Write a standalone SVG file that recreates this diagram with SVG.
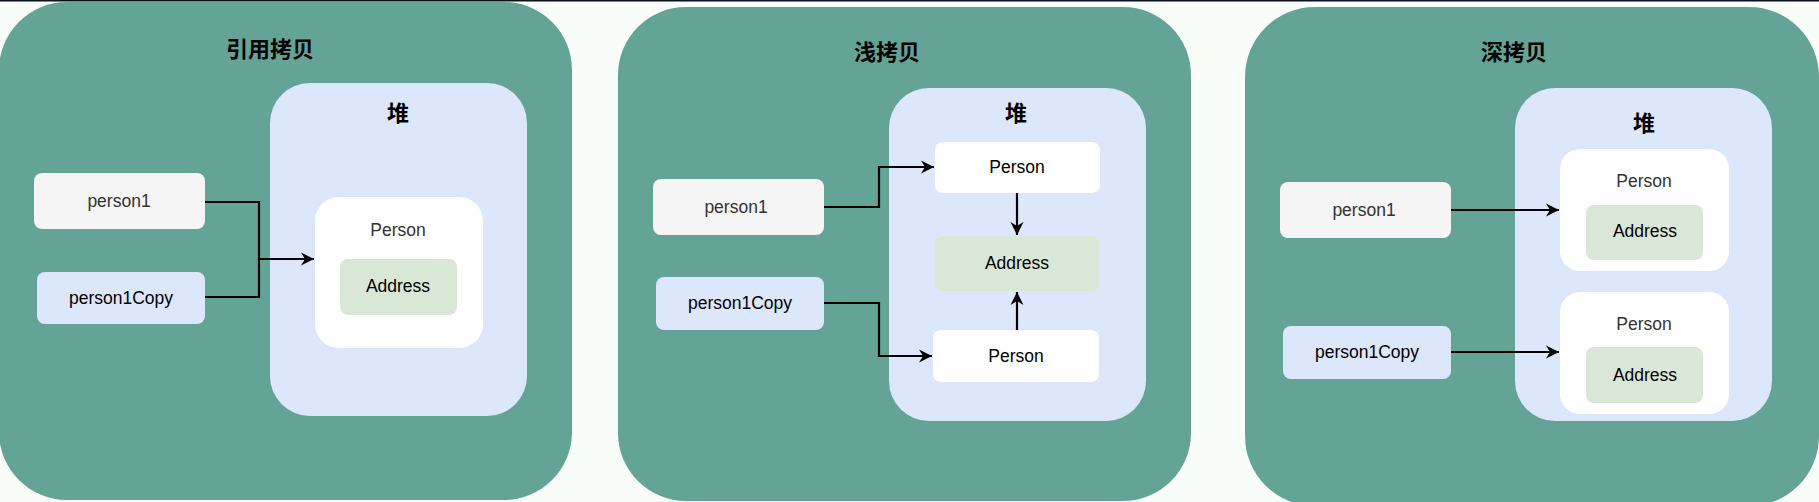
<svg xmlns="http://www.w3.org/2000/svg" width="1819" height="502" viewBox="0 0 1819 502">
<style>
.panel{fill:#64a497}
.heap{fill:#dce7fb}
.white{fill:#ffffff}
.addr{fill:#d9e7d6}
.p1{fill:#f5f5f5}
.pc{fill:#dce7fb}
.title{font-family:"Liberation Sans","Noto Sans CJK SC",sans-serif;font-size:22px;font-weight:bold;fill:#000;text-anchor:middle;dominant-baseline:central}
.lbl{font-family:"Liberation Sans",Arial,sans-serif;font-size:17.5px;fill:#000;text-anchor:middle;dominant-baseline:central}
.gray{fill:#333}
.conn{fill:none;stroke:#000;stroke-width:2.2}
</style>
<defs>
<marker id="arr" markerUnits="userSpaceOnUse" markerWidth="15" markerHeight="15" viewBox="0 0 15 15" refX="14" refY="7.5" orient="auto">
<path d="M1,1 L14,7.5 L1,14 L5,7.5 Z" fill="#000"/>
</marker>
</defs>
<rect x="0" y="0" width="1819" height="502" fill="#f8fdf9"/>
<rect x="0" y="0" width="1819" height="1.5" fill="#0b1118"/>

<g id="panel-ref">
<rect class="panel" x="-1" y="2" width="573" height="498" rx="68"/>
<text class="title" x="270" y="49">引用拷贝</text>
</g>
<g id="heap-ref">
<rect class="heap" x="270" y="83" width="257" height="333" rx="40"/>
<text class="title" x="398" y="113">堆</text>
</g>
<g id="person-ref">
<rect class="white" x="315" y="197" width="168" height="151" rx="24"/>
<text class="lbl gray" x="398" y="230">Person</text>
</g>
<g id="address-ref">
<rect class="addr" x="340" y="259" width="117" height="56" rx="8"/>
<text class="lbl" x="398" y="286">Address</text>
</g>
<g id="person1-ref">
<rect class="p1" x="34" y="173" width="171" height="56" rx="8"/>
<text class="lbl gray" x="119" y="201">person1</text>
</g>
<g id="person1copy-ref">
<rect class="pc" x="37" y="272" width="168" height="52" rx="8"/>
<text class="lbl" x="121" y="298">person1Copy</text>
</g>

<g id="panel-shallow">
<rect class="panel" x="618" y="7" width="573" height="494" rx="68"/>
<text class="title" x="887" y="52">浅拷贝</text>
</g>
<g id="heap-shallow">
<rect class="heap" x="889" y="88" width="257" height="333" rx="40"/>
<text class="title" x="1016" y="113">堆</text>
</g>
<g id="person-top-shallow">
<rect class="white" x="935" y="142" width="165" height="51" rx="8"/>
<text class="lbl" x="1017" y="167">Person</text>
</g>
<g id="address-shallow">
<rect class="addr" x="935" y="236" width="164" height="55" rx="8"/>
<text class="lbl" x="1017" y="263">Address</text>
</g>
<g id="person-bottom-shallow">
<rect class="white" x="933" y="330" width="166" height="52" rx="8"/>
<text class="lbl" x="1016" y="356">Person</text>
</g>
<g id="person1-shallow">
<rect class="p1" x="653" y="179" width="171" height="56" rx="8"/>
<text class="lbl gray" x="736" y="207">person1</text>
</g>
<g id="person1copy-shallow">
<rect class="pc" x="656" y="277" width="168" height="53" rx="8"/>
<text class="lbl" x="740" y="303">person1Copy</text>
</g>

<g id="panel-deep">
<rect class="panel" x="1245" y="7" width="574" height="499" rx="70"/>
<text class="title" x="1514" y="52">深拷贝</text>
</g>
<g id="heap-deep">
<rect class="heap" x="1515" y="88" width="257" height="333" rx="40"/>
<text class="title" x="1644" y="123">堆</text>
</g>
<g id="personA-deep">
<rect class="white" x="1560" y="149" width="169" height="122" rx="20"/>
<text class="lbl gray" x="1644" y="181">Person</text>
<rect class="addr" x="1586" y="205" width="117" height="55" rx="8"/>
<text class="lbl" x="1645" y="231">Address</text>
</g>
<g id="personB-deep">
<rect class="white" x="1560" y="292" width="169" height="122" rx="20"/>
<text class="lbl gray" x="1644" y="324">Person</text>
<rect class="addr" x="1586" y="347" width="117" height="56" rx="8"/>
<text class="lbl" x="1645" y="375">Address</text>
</g>
<g id="person1-deep">
<rect class="p1" x="1280" y="182" width="171" height="56" rx="8"/>
<text class="lbl gray" x="1364" y="210">person1</text>
</g>
<g id="person1copy-deep">
<rect class="pc" x="1283" y="326" width="168" height="53" rx="8"/>
<text class="lbl" x="1367" y="352">person1Copy</text>
</g>

<g id="connectors">
<path class="conn" d="M205,202 H259 V259 H314" marker-end="url(#arr)"/>
<path class="conn" d="M205,297 H259 V259"/>
<path class="conn" d="M824,207 H879 V167 H934" marker-end="url(#arr)"/>
<path class="conn" d="M824,303 H879 V356 H932" marker-end="url(#arr)"/>
<path class="conn" d="M1017,193 V235" marker-end="url(#arr)"/>
<path class="conn" d="M1017,330 V292" marker-end="url(#arr)"/>
<path class="conn" d="M1451,210 H1559" marker-end="url(#arr)"/>
<path class="conn" d="M1451,352 H1559" marker-end="url(#arr)"/>
</g>
</svg>
